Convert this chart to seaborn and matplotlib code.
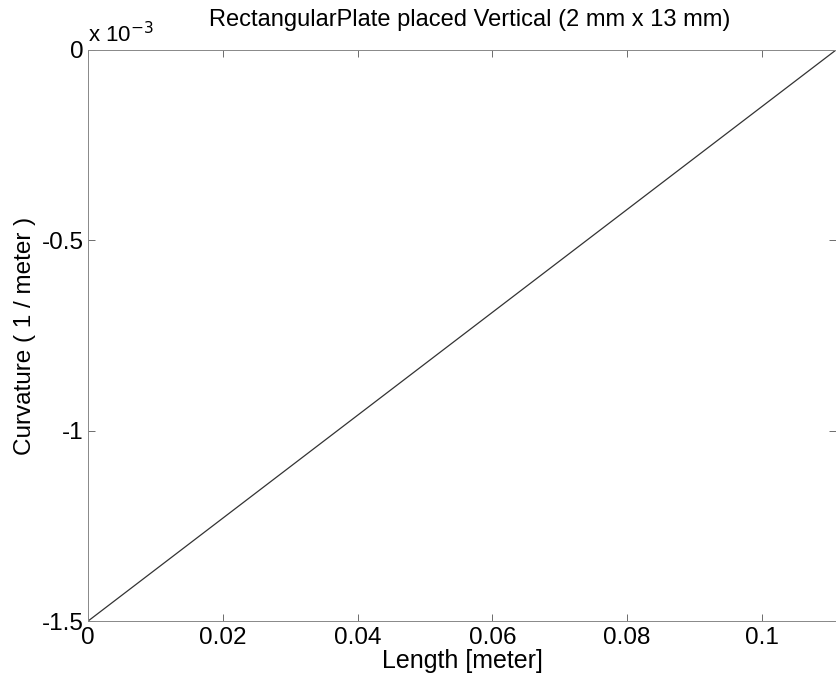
import matplotlib
matplotlib.use("Agg")
import matplotlib.pyplot as plt
import seaborn as sns
import pandas as pd

# Data (curvature in units of 1e-3 1/meter)
length_m = [0.0, 0.111]
curvature_e3 = [-1.5, 0.0]
xticks = [0, 0.02, 0.04, 0.06, 0.08, 0.1]
xtick_labels = ["0", "0.02", "0.04", "0.06", "0.08", "0.1"]
yticks = [-1.5, -1.0, -0.5, 0.0]
ytick_labels = ["-1.5", "-1", "-0.5", "0"]

sns.set_style("white")
plt.rcParams['font.family'] = ['Liberation Sans', 'DejaVu Sans']
plt.rcParams['text.color'] = 'black'
plt.rcParams['axes.labelcolor'] = 'black'

df = pd.DataFrame({"Length": length_m, "Curvature": curvature_e3})

fig = plt.figure(figsize=(8.36, 6.81), dpi=100)
ax = fig.add_axes([0.1053, 0.088, 0.8947, 0.8386])
sns.lineplot(data=df, x="Length", y="Curvature", ax=ax, color="#333333", linewidth=0.9)

ax.set_xlim(0, 0.111)
ax.set_ylim(-1.5, 0)
ax.set_xticks(xticks)
ax.set_xticklabels(xtick_labels)
ax.set_yticks(yticks)
ax.set_yticklabels(ytick_labels)
ax.tick_params(direction="in", length=5, width=0.6, colors="#555555",
               labelcolor="black", labelsize=17.5, top=True, right=True,
               bottom=True, left=True)
ax.tick_params(axis="x", pad=4)
ax.tick_params(axis="y", pad=3)
for s in ax.spines.values():
    s.set_color("#888888")
    s.set_linewidth(0.7)

ax.set_xlabel("Length [meter]", fontsize=18, labelpad=0, color="black")
ax.set_ylabel("Curvature ( 1 / meter )", fontsize=17.5, labelpad=4, color="black")
ax.set_title("RectangularPlate placed Vertical (2 mm x 13 mm)", fontsize=17,
             pad=17, x=0.51, color="black")
ax.text(0.0, 1.005, r"x 10$^{-3}$", transform=ax.transAxes, fontsize=16,
        ha="left", va="bottom", color="black")

fig.savefig("out.png", dpi=100)
